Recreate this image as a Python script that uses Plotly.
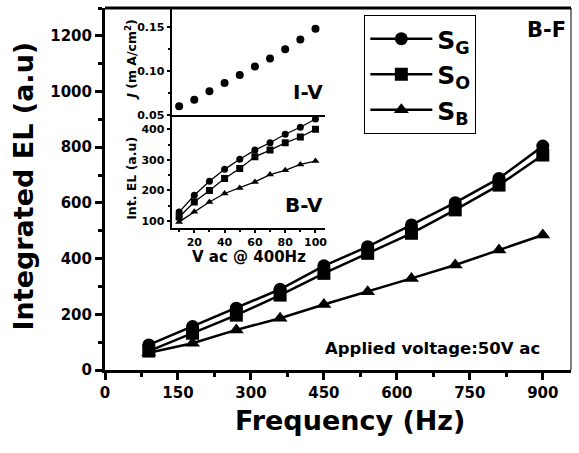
import plotly.graph_objects as go

# ---- main chart data (B-F) ----
freq = [90, 180, 270, 360, 450, 540, 630, 720, 810, 900]
s_g = [90, 156, 222, 290, 374, 443, 521, 601, 688, 804]
s_o = [68, 132, 197, 269, 347, 419, 491, 575, 664, 772]
s_b = [62, 96, 144, 186, 235, 281, 329, 377, 431, 485]

# ---- inset data ----
volt = [10, 20, 30, 40, 50, 60, 70, 80, 90, 100]
iv_j = [0.060, 0.0674, 0.0770, 0.0863, 0.0956, 0.1052, 0.1141, 0.1248, 0.1359, 0.1481]
bv_g = [129, 184, 230, 269, 302, 332, 356, 384, 407, 434]
bv_o = [113, 162, 200, 239, 272, 310, 332, 356, 375, 400]
bv_b = [97, 130, 162, 190, 208, 228, 252, 266, 285, 296]

series_names = ["S<sub>G</sub>", "S<sub>O</sub>", "S<sub>B</sub>"]
symbols = ["circle", "square", "triangle-up"]

FONT = "DejaVu Sans"
W, H = 579, 453
L, R, T, B = 105, 5, 8, 83
PW, PH = W - L - R, H - T - B


def px(xp):
    return (xp - L) / PW


def py(yp):
    return (H - B - yp) / PH


fig = go.Figure()

for name, vals, sym in zip(series_names, [s_g, s_o, s_b], symbols):
    fig.add_trace(go.Scatter(
        x=freq, y=vals, name=name, mode="lines+markers",
        line=dict(color="black", width=2.5),
        marker=dict(symbol=sym, size=13, color="black"),
        xaxis="x", yaxis="y"))

for vals, sym in zip([bv_g, bv_o, bv_b], symbols):
    fig.add_trace(go.Scatter(
        x=volt, y=vals, mode="lines+markers", showlegend=False,
        line=dict(color="black", width=1.3),
        marker=dict(symbol=sym, size=7, color="black"),
        xaxis="x2", yaxis="y2"))

fig.add_trace(go.Scatter(
    x=volt, y=iv_j, mode="markers", showlegend=False,
    marker=dict(symbol="circle", size=8, color="black"),
    xaxis="x3", yaxis="y3"))

tick_main = dict(family=FONT, size=15, color="black", weight="bold")
tick_in = dict(family=FONT, size=11, color="black", weight="bold")

x_in_dom = [px(172), px(326)]
y_split = py(115)

fig.update_layout(
    width=W, height=H, autosize=False,
    margin=dict(l=L, r=R, t=T, b=B),
    paper_bgcolor="white", plot_bgcolor="white",
    xaxis=dict(domain=[0, 1], range=[0, 958], tickvals=[0, 150, 300, 450, 600, 750, 900],
               ticks="outside", ticklen=7, tickwidth=3, tickcolor="black",
               minor=dict(dtick=75, tick0=0, ticks="outside", ticklen=4, tickwidth=3, tickcolor="black"),
               showline=True, linewidth=3, linecolor="black", showgrid=False, zeroline=False,
               tickfont=tick_main, anchor="y"),
    yaxis=dict(domain=[0, 1], range=[0, 1300], tickvals=[0, 200, 400, 600, 800, 1000, 1200],
               ticks="outside", ticklen=7, tickwidth=3, tickcolor="black",
               minor=dict(dtick=100, tick0=0, ticks="outside", ticklen=4, tickwidth=3, tickcolor="black"),
               showline=True, linewidth=3, linecolor="black", showgrid=False, zeroline=False,
               tickfont=tick_main, anchor="x"),
    xaxis2=dict(domain=x_in_dom, range=[5, 106], tickvals=[20, 40, 60, 80, 100],
                ticks="outside", ticklen=3, tickwidth=2, tickcolor="black",
                minor=dict(dtick=10, tick0=0, ticks="outside", ticklen=2, tickwidth=1.5, tickcolor="black"),
                showline=True, linewidth=2, linecolor="black", showgrid=False, zeroline=False,
                tickfont=tick_in, anchor="y2"),
    yaxis2=dict(domain=[py(228), y_split], range=[77, 447], tickvals=[100, 200, 300, 400],
                ticks="outside", ticklen=3, tickwidth=2, tickcolor="black",
                minor=dict(dtick=50, tick0=0, ticks="outside", ticklen=2, tickwidth=1.5, tickcolor="black"),
                showline=True, linewidth=2, linecolor="black", showgrid=False, zeroline=False,
                tickfont=tick_in, anchor="x2"),
    xaxis3=dict(domain=x_in_dom, range=[5, 106], showticklabels=False, ticks="",
                showline=True, linewidth=2, linecolor="black", showgrid=False, zeroline=False,
                anchor="y3"),
    yaxis3=dict(domain=[y_split, 1], range=[0.05, 0.1716], tickvals=[0.05, 0.10, 0.15],
                ticktext=["0.05", "0.10", "0.15"],
                ticks="outside", ticklen=3, tickwidth=2, tickcolor="black",
                minor=dict(dtick=0.025, tick0=0, ticks="outside", ticklen=2, tickwidth=1.5, tickcolor="black"),
                showline=True, linewidth=2, linecolor="black", showgrid=False, zeroline=False,
                tickfont=tick_in, anchor="x3"),
    legend=dict(x=px(366), y=py(15), xanchor="left", yanchor="top",
                bordercolor="black", borderwidth=1, bgcolor="white",
                font=dict(family=FONT, size=25, color="black", weight="bold"),
                itemwidth=62, tracegroupgap=0),
    showlegend=True,
)

# frame: thick top line and thin right line
fig.add_shape(type="line", xref="paper", yref="paper", x0=0, x1=1, y0=1, y1=1,
              line=dict(color="black", width=3))
fig.add_shape(type="line", xref="paper", yref="paper", x0=1, x1=1, y0=0, y1=1,
              line=dict(color="black", width=1))


def note(text, xp, yp, size, angle=0):
    fig.add_annotation(text=text, xref="paper", yref="paper", x=px(xp), y=py(yp),
                       xanchor="center", yanchor="middle", showarrow=False, textangle=angle,
                       font=dict(family=FONT, size=size, color="black", weight="bold"))


note("Integrated EL (a.u)", 22, 186, 27, -90)
note("Frequency (Hz)", 352, 420, 27)
note("<i>J</i> (m A/cm<sup>2</sup>)", 131, 60, 12.5, -90)
note("Int. EL (a.u)", 131, 178, 12.5, -90)
note("V ac @ 400Hz", 250, 257, 15)
note("I-V", 309, 92, 20)
note("B-V", 305, 205, 20)
note("B-F", 549, 30, 21)
note("Applied voltage:50V ac", 435, 348, 16.5)

fig.write_html("out.html")
